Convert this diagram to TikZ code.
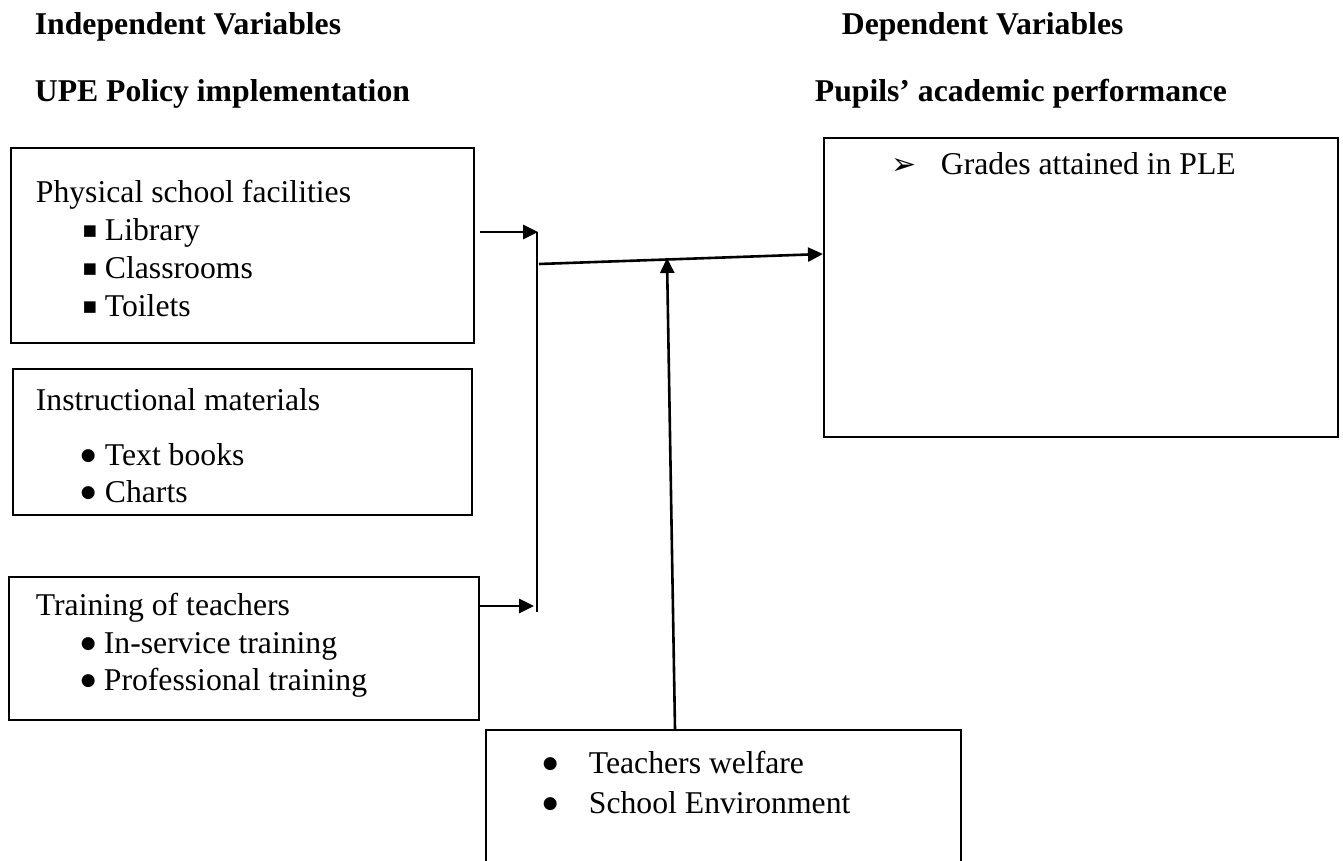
\documentclass[tikz,border=0pt]{standalone}
\usepackage{fontspec}
\setmainfont{Liberation Serif}
\newfontfamily\symfont{DejaVu Sans}
\usetikzlibrary{arrows.meta,positioning}

\newcommand{\itm}[2]{\makebox[#1][l]{#2}}
\newcommand{\bul}{\raisebox{4.3pt}{\symfont\fontsize{17}{19}\selectfont ●}}
\newcommand{\sqr}{\raisebox{4.5pt}{\symfont\fontsize{15}{18}\selectfont ■}}

\begin{document}
\begin{tikzpicture}[x=1pt,y=-1pt,line width=1.8pt,>={Triangle[length=15pt,width=14pt]},
  box/.style={draw,line width=1.8pt,inner sep=0pt,anchor=north west},
  txt/.style={anchor=base west,inner sep=0pt,font=\fontsize{31.7}{38}\selectfont},
  head/.style={anchor=base west,inner sep=0pt,font=\fontsize{31.7}{38}\selectfont\bfseries},
  link/.style={line width=2.6pt}]
  \useasboundingbox (0,0) rectangle (1343,861);
  % titles
  \node[head] (indep) at (34,35) {Independent Variables};
  \node[head] (upe) at (34,102) {UPE Policy implementation};
  \node[head] (dept) at (841,35) {Dependent Variables};
  \node[head] (pupil) at (814,102) {Pupils’ academic performance};
  % boxes
  \node[box,minimum width=463pt,minimum height=195pt] (phys) at (10,147) {};
  \node[box,minimum width=459pt,minimum height=146pt] (instr) at (12,368) {};
  \node[box,minimum width=470pt,minimum height=143pt] (train) at (8,576) {};
  \node[box,minimum width=514pt,minimum height=299pt] (perf) at (823,137) {};
  \node[box,minimum width=475pt,minimum height=170pt] (mod) at (485,729) {};
  % physical facilities
  \node[txt] (physT) at (35,202) {Physical school facilities};
  \node[txt] (lib) at (82,240) {\itm{22pt}{\sqr}Library};
  \node[txt] (cls) at (82,278) {\itm{22pt}{\sqr}Classrooms};
  \node[txt] (toi) at (82,316) {\itm{22pt}{\sqr}Toilets};
  % instructional materials
  \node[txt] (instrT) at (35,410) {Instructional materials};
  \node[txt] (tb) at (80,465) {\itm{24pt}{\bul}Text books};
  \node[txt] (ch) at (80,502) {\itm{24pt}{\bul}Charts};
  % training
  \node[txt] (trainT) at (35,615) {Training of teachers};
  \node[txt] (ins) at (80,653) {\itm{23pt}{\bul}In-service training};
  \node[txt] (pro) at (80,690) {\itm{23pt}{\bul}Professional training};
  % dependent
  \node[txt] (grd) at (891,175) {\itm{49pt}{\symfont\fontsize{30}{34}\selectfont ➢}Grades attained in PLE};
  % moderating
  \node[txt] (wel) at (542,773) {\itm{46pt}{\bul}Teachers welfare};
  \node[txt] (env) at (542,813) {\itm{46pt}{\bul}School Environment};
  % connectors
  \coordinate (jtop) at (537,232);
  \coordinate (jbot) at (537,612);
  \coordinate (jmid) at (539,264);
  \coordinate (hit) at (667,258);
  \draw[link] (jtop) -- (jbot);
  \draw[link,->] ([xshift=5pt]phys.east |- jtop) -- ([xshift=1pt]jtop);
  \draw[link,->] (train.east |- 0,606) -- (534,606);
  \draw[link,->] (jmid) -- (perf.west |- 0,254);
  \draw[link,->] (675,729) -- (hit);
\end{tikzpicture}
\end{document}
